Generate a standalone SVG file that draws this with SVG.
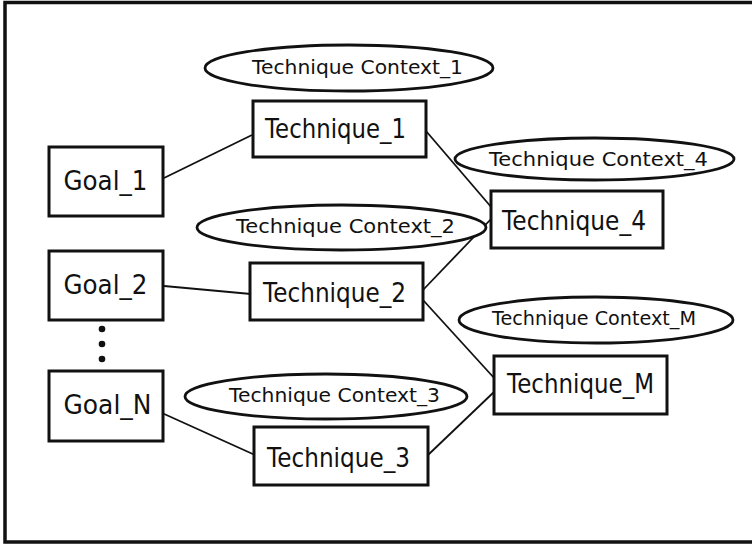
<svg xmlns="http://www.w3.org/2000/svg" width="752" height="545" viewBox="0 0 752 545">
  <style>
    .frame { fill: #fff; stroke: #111; stroke-width: 3.5; }
    .box { fill: #fff; stroke: #111; stroke-width: 3; }
    .ctx { fill: #fff; stroke: #111; stroke-width: 2.8; }
    .lbl { font-family: "DejaVu Sans", "Liberation Sans", sans-serif; font-size: 27px; fill: #111; }
    .clbl { font-family: "DejaVu Sans", "Liberation Sans", sans-serif; font-size: 20px; fill: #111; }
    .edge { stroke: #111; stroke-width: 1.8; fill: none; }
  </style>

  <rect class="frame" x="5" y="2.5" width="780" height="539.5"/>

  <!-- connectors -->
  <g id="connectors">
    <line class="edge" x1="164" y1="178" x2="252" y2="135"/>
    <line class="edge" x1="164" y1="286" x2="251" y2="294"/>
    <line class="edge" x1="162" y1="413" x2="255" y2="455"/>
    <line class="edge" x1="426" y1="131" x2="492" y2="208"/>
    <line class="edge" x1="423" y1="290" x2="492" y2="218"/>
    <line class="edge" x1="423" y1="300" x2="495" y2="379"/>
    <line class="edge" x1="428" y1="455" x2="495" y2="391"/>
  </g>

  <!-- goals -->
  <g id="goal_1">
    <rect class="box" x="49" y="147" width="114" height="69"/>
    <text class="lbl" x="63.5" y="189.5" textLength="84" lengthAdjust="spacingAndGlyphs">Goal_1</text>
  </g>
  <g id="goal_2">
    <rect class="box" x="49" y="251" width="114" height="69"/>
    <text class="lbl" x="63.5" y="294" textLength="84" lengthAdjust="spacingAndGlyphs">Goal_2</text>
  </g>
  <g id="ellipsis">
    <circle cx="102" cy="329" r="3.3" fill="#111"/>
    <circle cx="102" cy="344" r="3.3" fill="#111"/>
    <circle cx="102" cy="359" r="3.3" fill="#111"/>
  </g>
  <g id="goal_n">
    <rect class="box" x="49" y="371" width="114" height="70"/>
    <text class="lbl" x="63.5" y="414" textLength="88" lengthAdjust="spacingAndGlyphs">Goal_N</text>
  </g>

  <!-- techniques -->
  <g id="technique_1">
    <rect class="box" x="253" y="101" width="173" height="56"/>
    <text class="lbl" x="265" y="138" textLength="141" lengthAdjust="spacingAndGlyphs">Technique_1</text>
  </g>
  <g id="technique_2">
    <rect class="box" x="250" y="263" width="173" height="57"/>
    <text class="lbl" x="263" y="302" textLength="143" lengthAdjust="spacingAndGlyphs">Technique_2</text>
  </g>
  <g id="technique_3">
    <rect class="box" x="254" y="427" width="174" height="58"/>
    <text class="lbl" x="267" y="467" textLength="143" lengthAdjust="spacingAndGlyphs">Technique_3</text>
  </g>
  <g id="technique_4">
    <rect class="box" x="491" y="191" width="172" height="57"/>
    <text class="lbl" x="502" y="229.5" textLength="144" lengthAdjust="spacingAndGlyphs">Technique_4</text>
  </g>
  <g id="technique_m">
    <rect class="box" x="494" y="356" width="173" height="58"/>
    <text class="lbl" x="507" y="393" textLength="147" lengthAdjust="spacingAndGlyphs">Technique_M</text>
  </g>

  <!-- technique contexts -->
  <g id="context_1">
    <ellipse class="ctx" cx="349" cy="68" rx="144" ry="23"/>
    <text class="clbl" x="252" y="73.5" textLength="211" lengthAdjust="spacingAndGlyphs">Technique Context_1</text>
  </g>
  <g id="context_2">
    <ellipse class="ctx" cx="341.5" cy="227.5" rx="144.5" ry="22.5"/>
    <text class="clbl" x="236" y="233" textLength="219" lengthAdjust="spacingAndGlyphs">Technique Context_2</text>
  </g>
  <g id="context_3">
    <ellipse class="ctx" cx="326" cy="396.5" rx="141" ry="22.5"/>
    <text class="clbl" x="229" y="402" textLength="211" lengthAdjust="spacingAndGlyphs">Technique Context_3</text>
  </g>
  <g id="context_4">
    <ellipse class="ctx" cx="594.5" cy="159" rx="139.5" ry="21"/>
    <text class="clbl" x="489" y="165.5" textLength="219" lengthAdjust="spacingAndGlyphs">Technique Context_4</text>
  </g>
  <g id="context_m">
    <ellipse class="ctx" cx="596" cy="320" rx="137" ry="23"/>
    <text class="clbl" x="492" y="325" textLength="204" lengthAdjust="spacingAndGlyphs">Technique Context_M</text>
  </g>
</svg>
